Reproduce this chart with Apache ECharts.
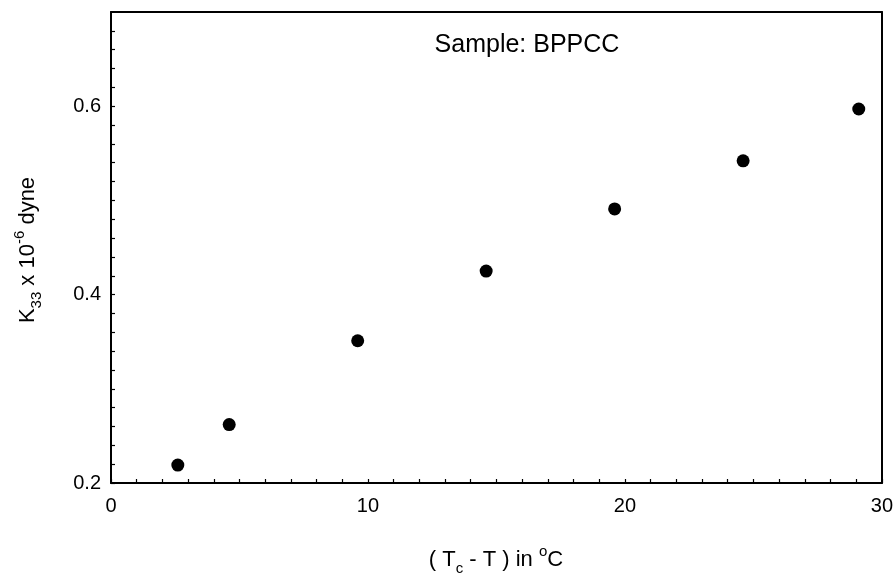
<!DOCTYPE html>
<html>
<head>
<meta charset="utf-8">
<script src="https://cdn.jsdelivr.net/npm/echarts@6/dist/echarts.min.js"></script>
<style>
  html, body { margin: 0; padding: 0; background: #fff; }
  #chart { width: 896px; height: 576px; }
</style>
</head>
<body>
<div id="chart"></div>
<script>
// Bend elastic constant K33 of BPPCC versus reduced temperature (Tc - T)
const tempDiff = [2.6, 4.6, 9.6, 14.6, 19.6, 24.6, 29.1];
const k33 = [0.219, 0.262, 0.351, 0.425, 0.491, 0.542, 0.597];
const xTickLabels = [0, 10, 20, 30];
const yTickLabels = [0.2, 0.4, 0.6];

const FONT = '"Liberation Sans", Arial, Helvetica, sans-serif';
const points = tempDiff.map((t, i) => [t, k33[i]]);

const chart = echarts.init(document.getElementById('chart'), null, { renderer: 'canvas' });

function near(v, list) {
  return list.some(l => Math.abs(v - l) < 1e-6);
}

const richScript = {
  n: { fontFamily: FONT, fontSize: 22, lineHeight: 32, fill: '#000' },
  sub: { fontFamily: FONT, fontSize: 15, lineHeight: 15, verticalAlign: 'bottom', fill: '#000' },
  sup: { fontFamily: FONT, fontSize: 15, lineHeight: 15, verticalAlign: 'top', fill: '#000' }
};

chart.setOption({
  animation: false,
  backgroundColor: '#ffffff',
  grid: { left: 111, right: 14, top: 12, bottom: 93, containLabel: false },
  xAxis: [{
    type: 'value', min: 0, max: 30, interval: 1, position: 'bottom',
    axisLine: { show: true, onZero: false, lineStyle: { color: '#000', width: 2 } },
    axisTick: { show: true, inside: true, length: 4, lineStyle: { color: '#000', width: 1.2 } },
    splitLine: { show: false },
    axisLabel: {
      color: '#000', fontFamily: FONT, fontSize: 20, margin: 13,
      formatter: v => near(v, xTickLabels) ? String(Math.round(v)) : ''
    }
  }, {
    type: 'value', min: 0, max: 30, position: 'top',
    axisLine: { show: true, onZero: false, lineStyle: { color: '#000', width: 2 } },
    axisTick: { show: false }, axisLabel: { show: false }, splitLine: { show: false }
  }],
  yAxis: [{
    type: 'value', min: 0.2, max: 0.7, interval: 0.02, position: 'left',
    axisLine: { show: true, onZero: false, lineStyle: { color: '#000', width: 2 } },
    axisTick: { show: true, inside: true, length: 4, lineStyle: { color: '#000', width: 1.2 } },
    splitLine: { show: false },
    axisLabel: {
      color: '#000', fontFamily: FONT, fontSize: 20, margin: 10,
      showMaxLabel: false,
      formatter: v => near(v, yTickLabels) ? v.toFixed(1) : ''
    }
  }, {
    type: 'value', min: 0.2, max: 0.7, position: 'right',
    axisLine: { show: true, onZero: false, lineStyle: { color: '#000', width: 2 } },
    axisTick: { show: false }, axisLabel: { show: false }, splitLine: { show: false }
  }],
  series: [{
    type: 'scatter',
    xAxisIndex: 0, yAxisIndex: 0,
    data: points,
    symbol: 'circle',
    symbolSize: 13,
    itemStyle: { color: '#000', opacity: 1 }
  }],
  graphic: [{
    type: 'text', x: 527, y: 45,
    style: {
      text: 'Sample: BPPCC',
      fill: '#000', font: '25px ' + FONT,
      textAlign: 'center', textVerticalAlign: 'middle'
    }
  }, {
    type: 'text', x: 496, y: 560,
    style: {
      text: '{n|( T}{sub|c}{n| - T ) in }{sup|o}{n|C}',
      fill: '#000',
      textAlign: 'center', textVerticalAlign: 'middle',
      rich: richScript
    }
  }, {
    type: 'text', x: 28, y: 250, rotation: Math.PI / 2,
    style: {
      text: '{n|K}{sub|33}{n| x 10}{sup|-6}{n| dyne}',
      fill: '#000',
      textAlign: 'center', textVerticalAlign: 'middle',
      rich: richScript
    }
  }]
});
</script>
</body>
</html>
